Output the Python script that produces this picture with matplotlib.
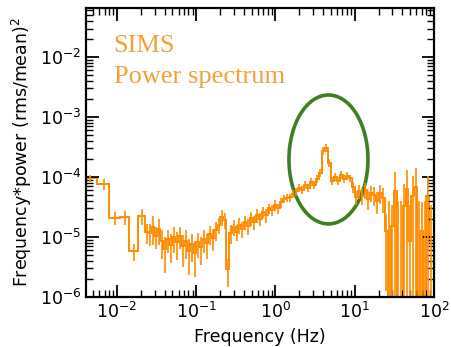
import numpy as np
import matplotlib
matplotlib.use("Agg")
import matplotlib.pyplot as plt
from matplotlib.patches import Ellipse

# Power spectrum (frequency * power)
freq = [0.00457, 0.00686, 0.00944, 0.0126, 0.0164, 0.0209, 0.0242,
        0.0260, 0.0284, 0.0310, 0.0338, 0.0368, 0.0402, 0.0438, 0.0478, 0.0521, 0.0569,
        0.0620, 0.0676, 0.0738, 0.0805, 0.0878, 0.0958, 0.104, 0.114, 0.124, 0.136,
        0.148, 0.161, 0.176, 0.192, 0.209, 0.228, 0.249, 0.272, 0.296, 0.323,
        0.352, 0.384, 0.419, 0.457, 0.499, 0.544, 0.594, 0.648, 0.706, 0.770,
        0.841, 0.917, 1.00, 1.09, 1.19, 1.30, 1.42, 1.54, 1.68, 1.84,
        2.00, 2.19, 2.38, 2.60, 2.84, 3.09, 3.38, 3.68, 4.02, 4.38,
        4.78, 5.21, 5.69, 6.20, 6.76, 7.38, 8.05, 8.78, 9.58, 10.4,
        11.4, 12.4, 13.5, 14.8, 16.1, 17.6, 19.2, 20.9, 22.8, 24.9,
        27.2, 29.6, 32.3, 35.2, 38.4, 42.0, 45.7, 49.9, 54.4, 59.4,
        64.8, 70.6, 77.1, 84.1, 91.7]
power = [9.6e-5, 7.6e-5, 2.1e-5, 2.15e-5, 5.8e-6, 2.24e-5, 1.2e-5,
         1.19e-5, 1.47e-5, 1.04e-5, 1.36e-5, 8.6e-6, 6.3e-6, 9.2e-6, 7.4e-6, 1.0e-5, 8.2e-6,
         1.04e-5, 7.1e-6, 8.6e-6, 5.8e-6, 7.6e-6, 5.4e-6, 8.2e-6, 6.8e-6, 9.2e-6, 7.9e-6,
         1.12e-5, 9.6e-6, 1.31e-5, 1.58e-5, 2.15e-5, 1.92e-5, 2.9e-6, 1.19e-5, 1.47e-5, 1.23e-5,
         1.58e-5, 1.36e-5, 1.78e-5, 1.53e-5, 2.07e-5, 1.78e-5, 2.32e-5, 2.0e-5, 2.6e-5, 2.32e-5,
         3.0e-5, 2.8e-5, 3.4e-5, 3.0e-5, 3.8e-5, 4.3e-5, 4.5e-5, 4.6e-5, 5.2e-5, 5.8e-5,
         6.6e-5, 6.1e-5, 7.4e-5, 6.6e-5, 8.3e-5, 7.4e-5, 9.3e-5, 1.17e-4, 2.71e-4, 3.04e-4,
         1.71e-4, 8.6e-5, 1.0e-4, 8.6e-5, 1.08e-4, 9.3e-5, 1.04e-4, 9.6e-5, 6.8e-5, 4.6e-5,
         5.8e-5, 4.8e-5, 6.1e-5, 4.3e-5, 5.4e-5, 5.0e-5, 4.0e-5, 5.4e-5, 4.5e-5, 1.26e-5,
         3e-7, 1.53e-5, 5.8e-5, 3e-7, 3e-7, 3.3e-5, 6.3e-5, 8.6e-6, 4.8e-5, 6.8e-5,
         3e-7, 1.26e-5, 3e-7, 4.8e-5, 8.6e-6]
# relative 1-sigma errors
rel_err = [0.15, 0.2, 0.25, 0.25, 0.3, 0.3, 0.35,
           0.4, 0.5, 0.4, 0.45, 0.5, 0.6, 0.4, 0.5, 0.45, 0.5,
           0.4, 0.55, 0.5, 0.6, 0.5, 0.6, 0.45, 0.5, 0.4, 0.45,
           0.35, 0.4, 0.35, 0.3, 0.3, 0.3, 0.5, 0.35, 0.3, 0.3,
           0.3, 0.3, 0.25, 0.3, 0.25, 0.25, 0.25, 0.25, 0.2, 0.25,
           0.2, 0.2, 0.2, 0.2, 0.2, 0.15, 0.15, 0.15, 0.15, 0.15,
           0.15, 0.15, 0.15, 0.15, 0.15, 0.15, 0.15, 0.15, 0.15, 0.15,
           0.15, 0.15, 0.15, 0.15, 0.15, 0.15, 0.15, 0.15, 0.2, 0.25,
           0.25, 0.3, 0.3, 0.35, 0.3, 0.35, 0.4, 0.35, 0.45, 0.9,
           130, 1.2, 1.1, 130, 130, 1.3, 1.1, 3.0, 1.2, 1.1,
           130, 2.0, 130, 1.2, 3.0]

freq = np.array(freq)
power = np.array(power)
err = power * np.array(rel_err)

# bin edges halfway (in log) between centres
mid = np.sqrt(freq[1:] * freq[:-1])
edges = np.concatenate([[freq[0] ** 2 / mid[0]], mid, [freq[-1] ** 2 / mid[-1]]])

orange = '#ff8c00'

fig = plt.figure(figsize=(4.52, 3.47), dpi=100)
ax = fig.add_axes([0.190, 0.144, 0.770, 0.833])

ax.stairs(power, edges, color=orange, lw=1.4, baseline=None)
ax.errorbar(freq, power, yerr=err, fmt='none', ecolor=orange, elinewidth=1.2, capsize=0)

ax.set_xscale('log')
ax.set_yscale('log')
ax.set_xlim(4.06e-3, 100)
ax.set_ylim(1e-6, 0.066)

ax.set_xlabel('Frequency (Hz)', fontsize=12.5)
ax.set_ylabel('Frequency*power (rms/mean)$^2$', fontsize=12.5)

ax.tick_params(which='both', direction='in', top=True, right=True, labelsize=12.5)
ax.tick_params(which='major', length=9, width=1.3)
ax.tick_params(which='minor', length=5, width=1.0)
for s in ax.spines.values():
    s.set_linewidth(1.6)

ax.text(0.08, 0.87, 'SIMS', transform=ax.transAxes, fontsize=19,
        family='Liberation Serif', color='#f5a035', va='center')
ax.text(0.08, 0.76, 'Power spectrum', transform=ax.transAxes, fontsize=19,
        family='Liberation Serif', color='#f5a035', va='center')

ax.add_patch(Ellipse((0.697, 0.476), 0.227, 0.446, transform=ax.transAxes,
                     fill=False, edgecolor='#3f7f1f', lw=2.6, clip_on=False))

fig.savefig('out.png', dpi=100)
